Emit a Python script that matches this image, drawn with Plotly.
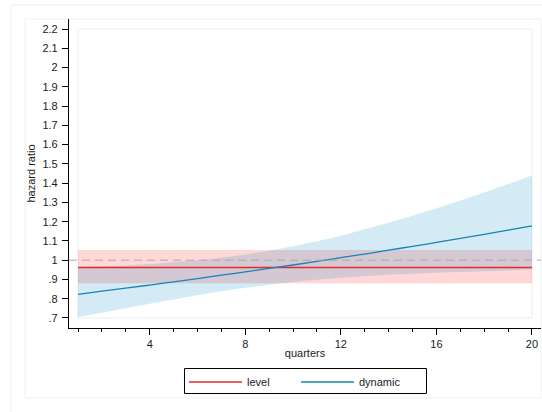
import plotly.graph_objects as go

# quarters since entry
quarters = list(range(1, 21))

# "level" model: constant hazard ratio with 95% CI
level_hr = [0.962] * 20
level_lo = [0.880] * 20
level_hi = [1.053] * 20

# "dynamic" model: hazard ratio varying with quarters, 95% CI
dynamic_hr = [0.823, 0.839, 0.855, 0.871, 0.888, 0.904, 0.922, 0.939, 0.957, 0.975,
              0.994, 1.013, 1.032, 1.052, 1.072, 1.092, 1.113, 1.134, 1.156, 1.178]
dynamic_lo = [0.705, 0.727, 0.750, 0.774, 0.796, 0.818, 0.839, 0.857, 0.873, 0.887,
              0.899, 0.909, 0.917, 0.924, 0.930, 0.935, 0.939, 0.943, 0.947, 0.953]
dynamic_hi = [0.963, 0.967, 0.973, 0.980, 0.989, 1.000, 1.013, 1.029, 1.049, 1.072,
              1.098, 1.127, 1.160, 1.195, 1.231, 1.269, 1.310, 1.352, 1.395, 1.440]

y_ticks = [0.7, 0.8, 0.9, 1.0, 1.1, 1.2, 1.3, 1.4, 1.5, 1.6, 1.7, 1.8, 1.9, 2.0, 2.1, 2.2]
y_ticktext = [".7", ".8", ".9", "1", "1.1", "1.2", "1.3", "1.4", "1.5", "1.6",
              "1.7", "1.8", "1.9", "2", "2.1", "2.2"]
x_ticks = [4, 8, 12, 16, 20]

RED = "#e4282c"
BLUE = "#1784b6"
FONT = "Liberation Sans, Arial, sans-serif"

fig = go.Figure()

# confidence bands (red first, blue on top)
fig.add_trace(go.Scatter(x=quarters, y=level_hi, mode="lines", line=dict(width=0),
                         showlegend=False, hoverinfo="skip"))
fig.add_trace(go.Scatter(x=quarters, y=level_lo, mode="lines", line=dict(width=0),
                         fill="tonexty", fillcolor="rgba(255,40,40,0.19)",
                         showlegend=False, hoverinfo="skip"))
fig.add_trace(go.Scatter(x=quarters, y=dynamic_hi, mode="lines", line=dict(width=0, shape="spline"),
                         showlegend=False, hoverinfo="skip"))
fig.add_trace(go.Scatter(x=quarters, y=dynamic_lo, mode="lines", line=dict(width=0, shape="spline"),
                         fill="tonexty", fillcolor="rgba(0,130,190,0.17)",
                         showlegend=False, hoverinfo="skip"))

# point estimates
fig.add_trace(go.Scatter(x=quarters, y=level_hr, mode="lines", name="level",
                         line=dict(color=RED, width=1.3)))
fig.add_trace(go.Scatter(x=quarters, y=dynamic_hr, mode="lines", name="dynamic",
                         line=dict(color=BLUE, width=1.3, shape="spline")))

# reference line at HR = 1
fig.add_shape(type="line", xref="paper", yref="y", x0=0, x1=1, y0=1, y1=1,
              line=dict(color="#a8a8a8", width=1, dash="8px,5px"), layer="above")

# plot region border
fig.add_shape(type="rect", xref="x", yref="y", x0=1, x1=20, y0=0.7, y1=2.2,
              line=dict(color="#e6eff1", width=1), layer="below")

# graph region and outer frame (paper units relative to the plot area)
W, H, L, T = 472.0, 309.0, 69.0, 19.0
def px(xp):
    return (xp - L) / W
def py(yp):
    return (T + H - yp) / H

fig.add_shape(type="rect", xref="paper", yref="paper",
              x0=px(25), x1=px(541), y0=py(398), y1=py(19),
              line=dict(color="#edf3f4", width=1), layer="below")
fig.add_shape(type="line", xref="paper", yref="paper",
              x0=px(11), x1=px(542), y0=py(5), y1=py(5),
              line=dict(color="#edf3f4", width=1.5), layer="below")
fig.add_shape(type="line", xref="paper", yref="paper",
              x0=px(11), x1=px(11), y0=py(5), y1=py(412),
              line=dict(color="#edf3f4", width=1.5), layer="below")

# legend frame
fig.add_shape(type="rect", xref="paper", yref="paper",
              x0=px(184.5), x1=px(426.5), y0=py(393.5), y1=py(368.5),
              line=dict(color="black", width=1), layer="above")

fig.update_layout(
    width=542, height=412,
    margin=dict(l=69, r=1, t=19, b=84),
    paper_bgcolor="white", plot_bgcolor="white",
    font=dict(family=FONT, size=11, color="#1a1a1a"),
    showlegend=True,
    legend=dict(orientation="h", x=px(184), xanchor="left", y=py(367.5), yanchor="top",
                traceorder="normal", borderwidth=0, bgcolor="rgba(0,0,0,0)",
                font=dict(size=11), entrywidth=44, entrywidthmode="pixels",
                itemwidth=53, tracegroupgap=0),
    xaxis=dict(range=[0.623, 20.377], showgrid=False, zeroline=False,
               showline=True, linecolor="black", linewidth=1.2,
               ticks="outside", ticklen=6, tickwidth=1.2, tickcolor="black",
               tickvals=x_ticks, ticktext=[str(v) for v in x_ticks],
               minor=dict(tickvals=quarters, ticks="outside", ticklen=3, tickwidth=1,
                          tickcolor="black", showgrid=False),
               title=dict(text="quarters", standoff=0, font=dict(size=11))),
    yaxis=dict(range=[0.648, 2.252], showgrid=False, zeroline=False,
               showline=True, linecolor="black", linewidth=1.2,
               ticks="outside", ticklen=6, tickwidth=1.2, tickcolor="black",
               tickvals=y_ticks, ticktext=y_ticktext, ticklabelstandoff=2,
               title=dict(text="hazard ratio", standoff=4, font=dict(size=11))),
)

fig.write_html("out.html")
